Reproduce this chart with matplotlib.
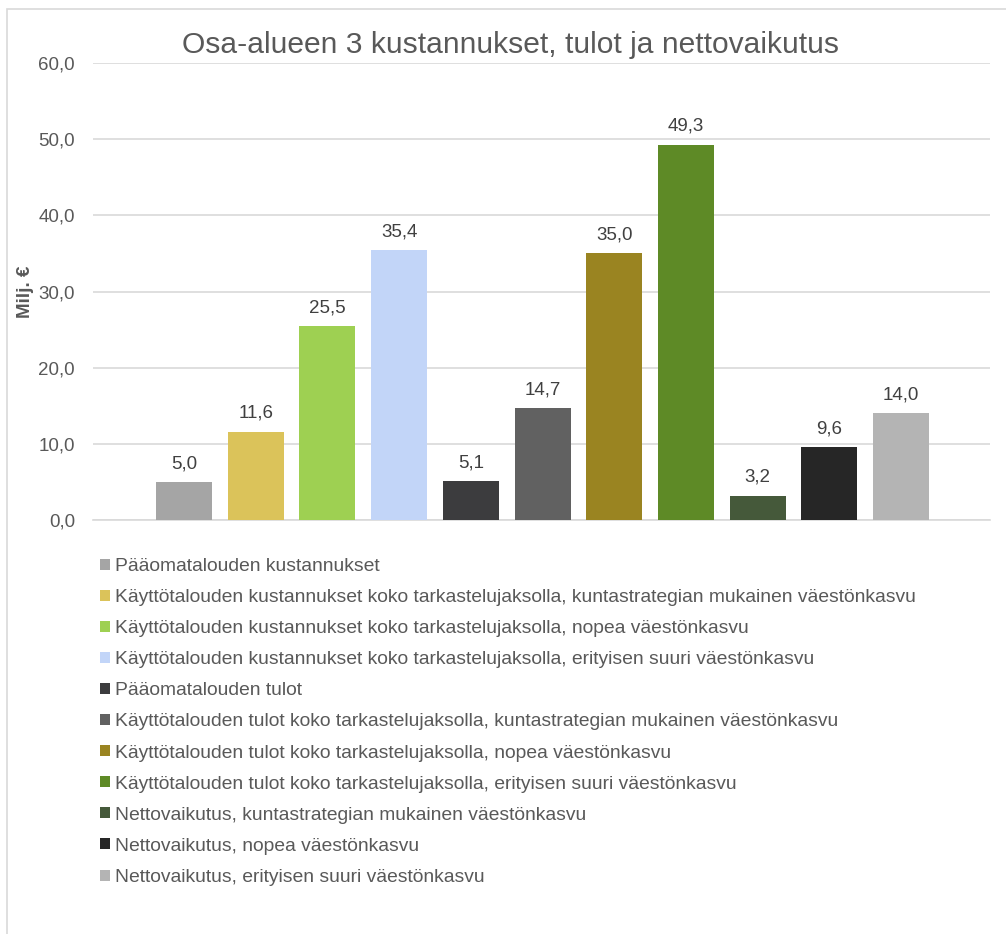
import numpy as np
import matplotlib.pyplot as plt
from matplotlib.patches import Rectangle

# Values of the chart (million euros)
series_names = [
    'Pääomatalouden kustannukset',
    'Käyttötalouden kustannukset koko tarkastelujaksolla, kuntastrategian mukainen väestönkasvu',
    'Käyttötalouden kustannukset koko tarkastelujaksolla, nopea väestönkasvu',
    'Käyttötalouden kustannukset koko tarkastelujaksolla, erityisen suuri väestönkasvu',
    'Pääomatalouden tulot',
    'Käyttötalouden tulot koko tarkastelujaksolla, kuntastrategian mukainen väestönkasvu',
    'Käyttötalouden tulot koko tarkastelujaksolla, nopea väestönkasvu',
    'Käyttötalouden tulot koko tarkastelujaksolla, erityisen suuri väestönkasvu',
    'Nettovaikutus, kuntastrategian mukainen väestönkasvu',
    'Nettovaikutus, nopea väestönkasvu',
    'Nettovaikutus, erityisen suuri väestönkasvu',
]
values = [5.0, 11.6, 25.5, 35.4, 5.1, 14.7, 35.0, 49.3, 3.2, 9.6, 14.0]
colors = ['#A5A5A5', '#DBC35A', '#9ED052', '#C2D5F8', '#3C3C3E', '#616161',
          '#9A8421', '#5E8A26', '#45593A', '#262626', '#B4B4B4']
y_ticks = [0, 10, 20, 30, 40, 50, 60]

plt.rcParams['font.family'] = ['Liberation Sans', 'DejaVu Sans']

fig = plt.figure(figsize=(10.06, 9.34), dpi=100)
ax = fig.add_axes([0.0924, 0.4433, 0.8917, 0.4892])

# chart border
fig.patches.append(Rectangle((7 / 1006, -0.1), 1.2, 1 - 9 / 934 + 0.1,
                             transform=fig.transFigure, fill=False,
                             edgecolor='#D9D9D9', linewidth=1.2))

x = np.arange(len(values))
for i in range(len(values)):
    b = ax.bar(x[i], values[i], width=0.78, color=colors[i], label=series_names[i], zorder=3)
    ax.bar_label(b, labels=[f'{values[i]:.1f}'.replace('.', ',')], padding=7,
                 fontsize=13.5, color='#404040')

ax.set_xlim(-1.27, 11.24)
ax.set_ylim(0, 60)
ax.set_yticks(y_ticks)
ax.set_yticklabels([f'{v:.1f}'.replace('.', ',') for v in y_ticks], fontsize=13.5, color='#595959')
ax.set_xticks([])
ax.tick_params(axis='y', length=0, pad=13)
ax.yaxis.grid(True, color='#D9D9D9', linewidth=1.2, zorder=0)
for s in ['top', 'right', 'left']:
    ax.spines[s].set_visible(False)
ax.spines['bottom'].set_color('#D9D9D9')
ax.spines['bottom'].set_linewidth(1.2)

ax.set_ylabel('Milj. €', fontsize=13.5, fontweight='bold', color='#595959')
ax.yaxis.set_label_coords(-0.066, 0.5)

fig.text(0.507, 0.952, 'Osa-alueen 3 kustannukset, tulot ja nettovaikutus',
         ha='center', va='center', fontsize=21.6, color='#595959')

leg = fig.legend(loc='upper left', bbox_to_anchor=(100 / 1006, 1 - 558 / 934),
                 frameon=False, fontsize=13.9, labelcolor='#595959',
                 handlelength=0.5, handleheight=0.5, handletextpad=0.3,
                 labelspacing=0.73, borderpad=0, borderaxespad=0)

fig.savefig('out.png', dpi=100)
